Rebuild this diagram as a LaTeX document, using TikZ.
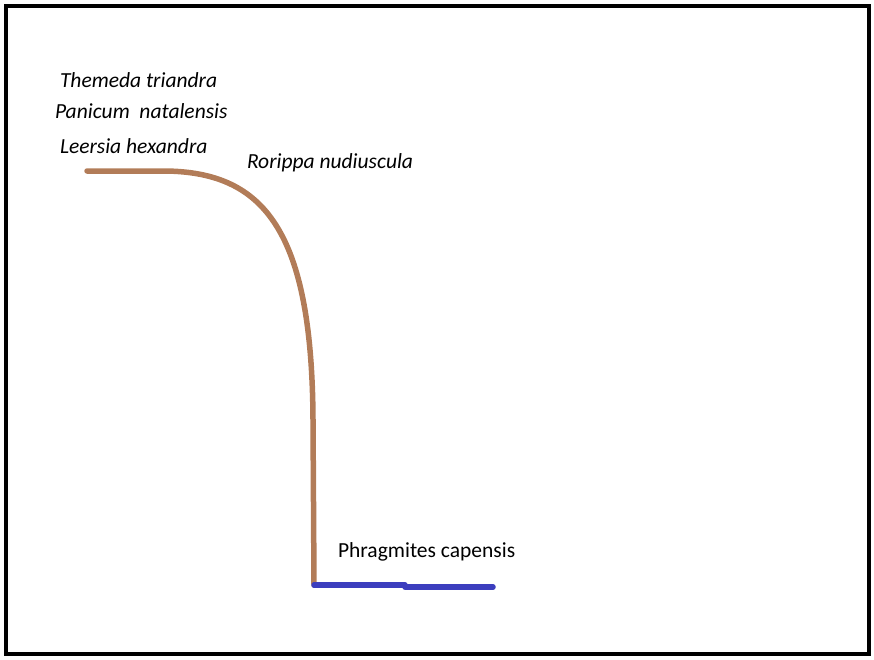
\documentclass[tikz,border=0pt]{standalone}
\usepackage{fontspec}
\setmainfont{Carlito}
\definecolor{cb07a55}{RGB}{178,124,88}
\definecolor{c3c3cbe}{RGB}{60,62,190}

\begin{document}
\begin{tikzpicture}[y=1pt, x=1pt, yscale=-1, inner sep=0pt, outer sep=0pt]
  \tikzset{species/.style={anchor=west,font=\fontsize{21.5}{24}\selectfont\itshape},
    soil/.style={draw=cb07a55,line width=5.5pt,line cap=round},
    water/.style={draw=c3c3cbe,line width=5.5pt,line cap=round}}
  \useasboundingbox (0,0) rectangle (874,659);

  % frame
  \path[draw=black,line width=3.5pt] (6,6) rectangle (869,654);

  % species labels
  \path (60,80) node[species] (text1) {Themeda triandra};
  \path (55,111) node[species] (text2) {Panicum\ \ natalensis};
  \path (60,146) node[species] (text3) {Leersia hexandra};
  \path (247,163) node[species] (text4) {Rorippa nudiuscula};
  \path (338,552) node[species,font=\fontsize{21.5}{24}\selectfont] (text5)
    {Phragmites capensis};

  % bank profile
  \coordinate (p1) at (87,171);
  \coordinate (p2) at (165,171);
  \coordinate (p3) at (313,420);
  \coordinate (p4) at (314,585);
  \coordinate (p5) at (405,585);
  \coordinate (p6) at (405,587);
  \coordinate (p7) at (493,587);
  \path[soil] (p1) -- (p2) .. controls (265,172) and (312,232) .. (p3) -- (p4);
  \path[water] (p4) -- (p5);
  \path[water] (p6) -- (p7);

\end{tikzpicture}
\end{document}
